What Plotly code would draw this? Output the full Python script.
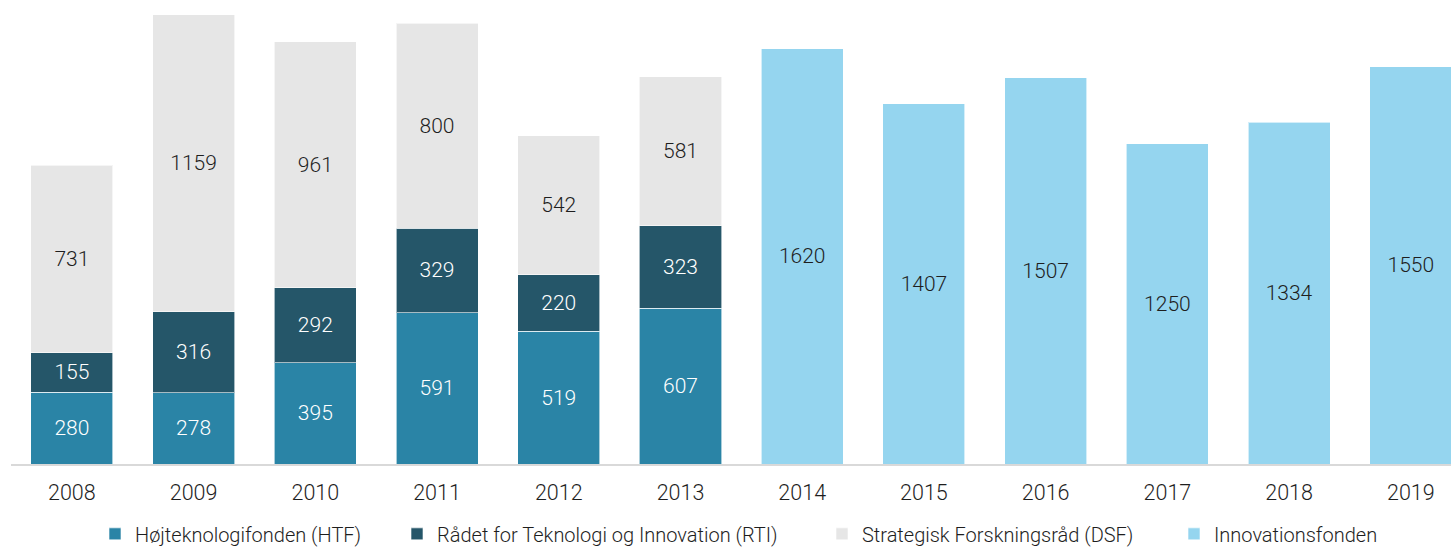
import plotly.graph_objects as go

years = ["2008", "2009", "2010", "2011", "2012", "2013",
         "2014", "2015", "2016", "2017", "2018", "2019"]
htf = [280, 278, 395, 591, 519, 607, None, None, None, None, None, None]
rti = [155, 316, 292, 329, 220, 323, None, None, None, None, None, None]
dsf = [731, 1159, 961, 800, 542, 581, None, None, None, None, None, None]
innov = [None, None, None, None, None, None, 1620, 1407, 1507, 1250, 1334, 1550]

names = ["Højteknologifonden (HTF)", "Rådet for Teknologi og Innovation (RTI)",
         "Strategisk Forskningsråd (DSF)", "Innovationsfonden"]
colors = ["#2A84A6", "#255669", "#E6E6E6", "#95D5EF"]
text_colors = ["white", "white", "#1E1E1E", "#1E1E1E"]
values = [htf, rti, dsf, innov]
legend_ids = ["legend", "legend2", "legend3", "legend4"]
legend_left_px = [95, 397, 822, 1174]

FONT = "Roboto"
W = 300
FIG_W, FIG_H = 1451, 547
fig = go.Figure()
for name, vals, color, tcolor, lid in zip(names, values, colors, text_colors, legend_ids):
    fig.add_trace(go.Bar(
        x=years, y=vals, name=name, legend=lid,
        marker=dict(color=color, line=dict(color="rgba(255,255,255,0.6)", width=1)),
        text=[str(v) if v is not None else "" for v in vals],
        textposition="inside", insidetextanchor="middle", textangle=0,
        textfont=dict(color=tcolor, size=21, family=FONT, weight=W),
        hoverinfo="skip",
    ))

legend_common = dict(orientation="h", xref="container", yref="container",
                     xanchor="left", y=0.024, yanchor="middle",
                     font=dict(size=20, family=FONT, color="#1E1E1E", weight=W),
                     itemwidth=30, bgcolor="rgba(0,0,0,0)")
legend_layout = {lid: dict(legend_common, x=px / FIG_W)
                 for lid, px in zip(legend_ids, legend_left_px)}

fig.update_layout(
    barmode="stack",
    bargap=0.326,
    width=FIG_W, height=FIG_H,
    margin=dict(l=11, r=0, t=0, b=83, autoexpand=False),
    paper_bgcolor="white", plot_bgcolor="white",
    font=dict(family=FONT, color="#1E1E1E", size=20, weight=W),
    uniformtext=dict(minsize=21, mode="show"),
    showlegend=True,
    xaxis=dict(type="category", range=[-0.5, 11.33], showgrid=False,
               showline=True, linecolor="#D9D9D9", linewidth=2,
               ticks="", tickfont=dict(size=21.5, family=FONT, color="#1E1E1E", weight=W),
               ticklabelstandoff=8),
    yaxis=dict(range=[0, 1811], visible=False, showgrid=False, zeroline=False),
    **legend_layout,
)

fig.write_html("out.html", config={"displayModeBar": False},
               post_script="document.body.style.margin='0px';")
